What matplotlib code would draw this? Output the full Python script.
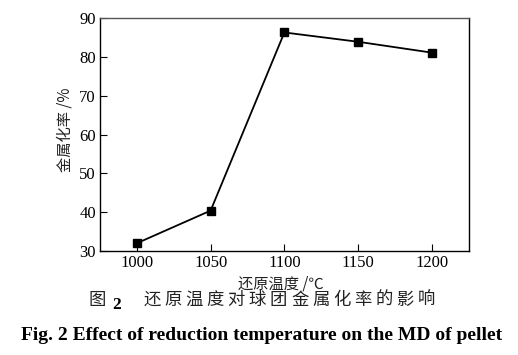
import matplotlib.pyplot as plt

temperature = [1000, 1050, 1100, 1150, 1200]
metallization = [32.0, 40.4, 86.3, 83.9, 81.1]

x_ticks = [1000, 1050, 1100, 1150, 1200]
y_ticks = [30, 40, 50, 60, 70, 80, 90]

caption_cn = '还原温度对球团金属化率的影响'
caption_en = 'Fig. 2 Effect of reduction temperature on the MD of pellet'

cjk = ['Noto Sans CJK SC', 'DejaVu Sans']
serif = ['Liberation Serif', 'DejaVu Serif']

fig = plt.figure(figsize=(5.18, 3.55), dpi=100)
ax = fig.add_axes([0.193, 0.293, 0.712, 0.656])

ax.plot(temperature, metallization, color='black', linewidth=1.3,
        marker='s', markersize=6)

ax.set_xlim(975, 1225)
ax.set_ylim(30, 90)
ax.set_xticks(x_ticks)
ax.set_yticks(y_ticks)
ax.tick_params(direction='in', length=5, width=0.8, top=False, right=False,
               labelsize=12, pad=3)
for lab in ax.get_xticklabels() + ax.get_yticklabels():
    lab.set_family(serif)
for sp in ax.spines.values():
    sp.set_linewidth(1.0)
ax.spines['top'].set_color('#555555')

fig.text(0.125, 0.634, '金属化率 /%', rotation=90, ha='center', va='center',
         fontsize=11, family=cjk, color='#222222')
fig.text(0.543, 0.2, '还原温度 /℃', ha='center', va='center',
         fontsize=11, family=cjk, color='#222222')

# caption line: 图 2 + spaced characters
fig.text(97 / 518, 0.155, '图', ha='center', va='center', fontsize=12.5,
         family=cjk, color='#222222')
fig.text(117 / 518, 0.14, '2', ha='center', va='center', fontsize=12.5,
         family=serif, weight='bold')
for i, ch in enumerate(caption_cn):
    fig.text((152 + i * 21.1) / 518, 0.155, ch, ha='center', va='center',
             fontsize=12.5, family=cjk, color='#222222')

fig.text(0.504, 0.056, caption_en, ha='center', va='center', fontsize=14,
         family=serif, weight='bold')

fig.savefig('out.png', dpi=100)
